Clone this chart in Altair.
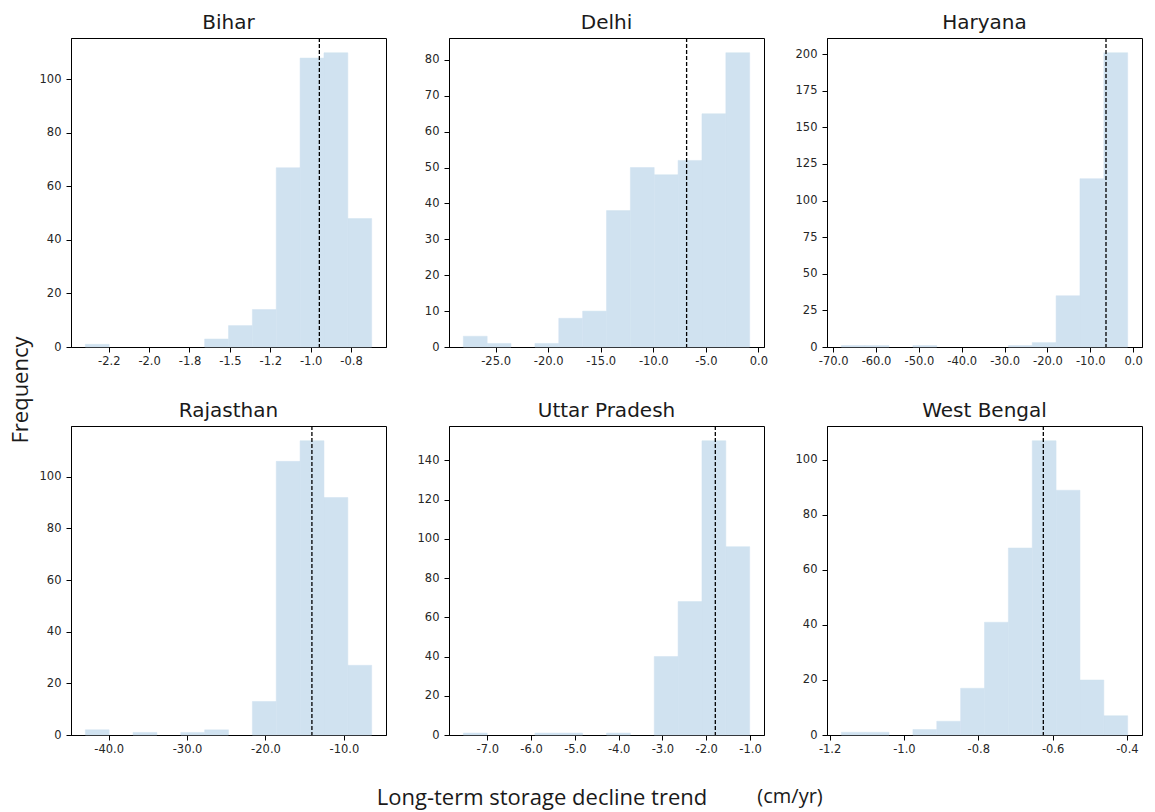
import altair as alt
import numpy as np
import pandas as pd

# ---------------- data ----------------
STATES = ["Bihar", "Delhi", "Haryana", "Rajasthan", "Uttar Pradesh", "West Bengal"]
N_BINS = 12
BIN_LO = [-2.395, -28.07, -68.1, -42.97, -7.548, -1.1685]
BIN_HI = [-0.622, -0.83, -1.27, -6.46, -1.007, -0.398]

COUNTS_BIHAR = [1, 0, 0, 0, 0, 3, 8, 14, 67, 108, 110, 48]
COUNTS_DELHI = [3, 1, 0, 1, 8, 10, 38, 50, 48, 52, 65, 82]
COUNTS_HARYANA = [1, 1, 0, 1, 0, 0, 0, 1, 3, 35, 115, 201]
COUNTS_RAJASTHAN = [2, 0, 1, 0, 1, 2, 0, 13, 106, 114, 92, 27]
COUNTS_UP = [1, 0, 0, 1, 1, 0, 1, 0, 40, 68, 150, 96]
COUNTS_WB = [1, 1, 0, 2, 5, 17, 41, 68, 107, 89, 20, 7]
COUNTS = [COUNTS_BIHAR, COUNTS_DELHI, COUNTS_HARYANA, COUNTS_RAJASTHAN, COUNTS_UP, COUNTS_WB]

MEDIANS = [-0.946, -6.83, -6.33, -14.08, -1.792, -0.625]

X_TICKS = [
    [-2.25, -2.0, -1.75, -1.5, -1.25, -1.0, -0.75],
    [-25, -20, -15, -10, -5, 0],
    [-70, -60, -50, -40, -30, -20, -10, 0],
    [-40, -30, -20, -10],
    [-7, -6, -5, -4, -3, -2, -1],
    [-1.2, -1.0, -0.8, -0.6, -0.4],
]
X_TICK_LABELS = [
    ["-2.2", "-2.0", "-1.8", "-1.5", "-1.2", "-1.0", "-0.8"],
    ["-25.0", "-20.0", "-15.0", "-10.0", "-5.0", "0.0"],
    ["-70.0", "-60.0", "-50.0", "-40.0", "-30.0", "-20.0", "-10.0", "0.0"],
    ["-40.0", "-30.0", "-20.0", "-10.0"],
    ["-7.0", "-6.0", "-5.0", "-4.0", "-3.0", "-2.0", "-1.0"],
    ["-1.2", "-1.0", "-0.8", "-0.6", "-0.4"],
]
Y_TICKS = [
    [0, 20, 40, 60, 80, 100],
    [0, 10, 20, 30, 40, 50, 60, 70, 80],
    [0, 25, 50, 75, 100, 125, 150, 175, 200],
    [0, 20, 40, 60, 80, 100],
    [0, 20, 40, 60, 80, 100, 120, 140],
    [0, 20, 40, 60, 80, 100],
]
Y_TITLE = "Frequency"
X_TITLE = "Long-term storage decline trend"
X_UNIT = "(cm/yr)"

# ---------------- styling ----------------
BAR_COLOR = "#d0e2f0"
PANEL_W, PANEL_H = 315, 309
COL_GAP, ROW_GAP = 63, 79
LEFT_W = 71 - COL_GAP
TICK_FONT = "DejaVu Sans"
TEXT_FONT = "Open Sans"
no_frame = alt.ViewBackground(strokeWidth=0)


def label_expr(values, labels):
    expr = "''"
    for v, lab in reversed(list(zip(values, labels))):
        expr = f"datum.value == {v!r} ? '{lab}' : {expr}"
    return expr


def panel(i, extra=None):
    edges = np.linspace(BIN_LO[i], BIN_HI[i], N_BINS + 1)
    df = pd.DataFrame({"x0": edges[:-1], "x1": edges[1:], "n": COUNTS[i],
                       "base": [0] * N_BINS})
    df = df[df["n"] > 0]
    span = BIN_HI[i] - BIN_LO[i]
    xs = alt.Scale(domain=[BIN_LO[i] - 0.05 * span, BIN_HI[i] + 0.05 * span],
                   nice=False, zero=False)
    ys = alt.Scale(domain=[0, 1.05 * max(COUNTS[i])], nice=False, zero=False)
    xaxis = alt.Axis(values=X_TICKS[i], labelExpr=label_expr(X_TICKS[i], X_TICK_LABELS[i]),
                     title=None, labelPadding=3)
    yaxis = alt.Axis(values=Y_TICKS[i], format="d", title=None, labelPadding=5)
    bars = alt.Chart(df).mark_bar(color=BAR_COLOR, stroke=BAR_COLOR, strokeWidth=0.5).encode(
        x=alt.X("x0:Q", scale=xs, axis=xaxis),
        x2="x1:Q",
        y=alt.Y("n:Q", scale=ys, axis=yaxis),
        y2="base:Q",
    )
    rule = alt.Chart(pd.DataFrame({"m": [MEDIANS[i]]})).mark_rule(
        color="black", strokeDash=[4, 2], strokeWidth=1.3
    ).encode(x=alt.X("m:Q", scale=xs, axis=xaxis))
    layers = [bars, rule] + (extra or [])
    return alt.layer(*layers).properties(
        width=PANEL_W, height=PANEL_H,
        view=alt.ViewBackground(stroke="black", strokeWidth=1),
        title=alt.TitleParams(STATES[i], font=TICK_FONT, fontSize=20, fontWeight="normal",
                              color="#1a1a1a", offset=-12, baseline="alphabetic", anchor="middle"),
    )


# shared x-axis caption, drawn as text layers inside the bottom-middle panel
xlab_main = alt.Chart(pd.DataFrame({"t": [X_TITLE]})).mark_text(
    font=TEXT_FONT, fontSize=22, color="#1a1a1a", align="center", baseline="alphabetic"
).encode(text="t:N", x=alt.value(93), y=alt.value(379))
xlab_unit = alt.Chart(pd.DataFrame({"t": [X_UNIT]})).mark_text(
    font=TEXT_FONT, fontSize=20, color="#1a1a1a", align="center", baseline="alphabetic"
).encode(text="t:N", x=alt.value(341), y=alt.value(377))

# left column cells (narrow), first one carries the shared y-axis caption
freq = alt.Chart(pd.DataFrame({"t": [Y_TITLE]})).mark_text(
    font=TEXT_FONT, fontSize=22, color="#1a1a1a", angle=270, align="center", baseline="alphabetic"
).encode(text="t:N", x=alt.value(28), y=alt.value(352)).properties(
    width=LEFT_W, height=PANEL_H, view=no_frame)
blank = alt.Chart(pd.DataFrame({"t": [""]})).mark_text().encode(
    text="t:N", x=alt.value(0), y=alt.value(0)
).properties(width=LEFT_W, height=PANEL_H, view=no_frame)

cells = [freq, panel(0), panel(1), panel(2),
         blank, panel(3), panel(4, [xlab_main, xlab_unit]), panel(5)]

chart = alt.concat(
    *cells, columns=4, spacing=alt.RowColnumber(row=ROW_GAP, column=COL_GAP), bounds="flush"
).resolve_scale(
    x="independent", y="independent"
).properties(
    padding={"left": 0, "top": 12, "right": 5, "bottom": 0}, background="white"
).configure_view(
    strokeWidth=0
).configure_axis(
    domainColor="black", domainWidth=1, tickColor="black", tickWidth=1, tickSize=5,
    labelFont=TICK_FONT, labelFontSize=11.5, labelColor="#262626", grid=False,
    labelFlush=False, labelOverlap=False, zindex=1,
)

chart.save("out.html", embed_options={"renderer": "svg", "actions": False})
